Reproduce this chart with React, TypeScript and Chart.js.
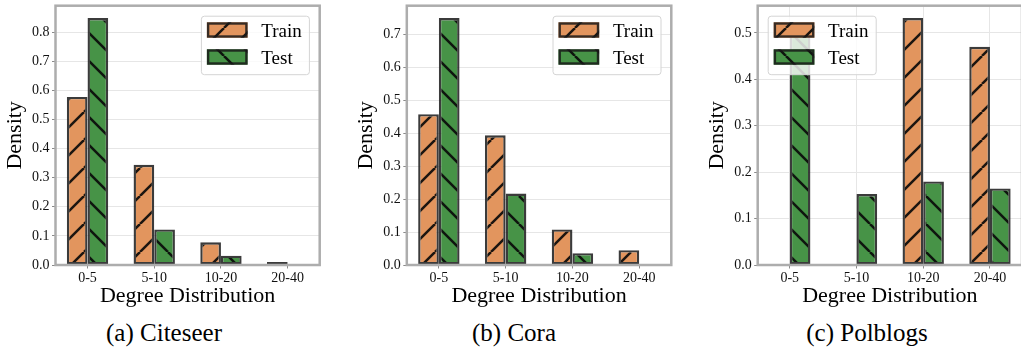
import React, { useEffect, useRef } from 'react';
import { Chart, registerables } from 'chart.js';

Chart.register(...registerables);

// ---------------- data ----------------
const categories = ['0-5', '5-10', '10-20', '20-40'];

const citeseerTrain = [0.577, 0.344, 0.078, 0.01];
const citeseerTest = [0.848, 0.122, 0.032, 0.003];

const coraTrain = [0.458, 0.394, 0.108, 0.045];
const coraTest = [0.75, 0.217, 0.036, 0.003];

const polblogsTrain = [0.0, 0.0, 0.532, 0.47];
const polblogsTest = [0.5, 0.153, 0.18, 0.165];

const citeseerTicks = [0, 0.1, 0.2, 0.3, 0.4, 0.5, 0.6, 0.7, 0.8];
const coraTicks = [0, 0.1, 0.2, 0.3, 0.4, 0.5, 0.6, 0.7];
const polblogsTicks = [0, 0.1, 0.2, 0.3, 0.4, 0.5];

const yMaxes = [0.8904, 0.7875, 0.5586];
const xRange = [-0.48, 3.48];

const seriesLabels = ['Train', 'Test'];
const captions = ['(a) Citeseer', '(b) Cora', '(c) Polblogs'];

// ---------------- styles ----------------
const SERIF = "'Liberation Serif', 'DejaVu Serif', serif";
const ORANGE = '#e2955e';
const GREEN = '#479347';
const EDGE = 'rgba(25,25,25,0.85)';
const GRID = '#e6e6e6';
const SPINE = '#adadad';
const CANVAS_H = 312;
const PLOT_TOP = 5.7;
const PLOT_BOTTOM = 265;

function makePattern(color: string, dir: number): CanvasPattern | string {
  const T = 28;
  const c = document.createElement('canvas');
  c.width = T;
  c.height = T;
  const g = c.getContext('2d');
  if (!g) return color;
  g.fillStyle = color;
  g.fillRect(0, 0, T, T);
  g.strokeStyle = 'rgba(10,10,10,0.92)';
  g.lineWidth = 2.5;
  for (const k of [-T, 0, T]) {
    g.beginPath();
    if (dir === 1) {
      g.moveTo(k, T);
      g.lineTo(k + T, 0);
    } else {
      g.moveTo(k, 0);
      g.lineTo(k + T, T);
    }
    g.stroke();
  }
  return g.createPattern(c, 'repeat') || color;
}

const framePlugin = {
  id: 'frameAndLegend',
  afterDatasetsDraw(chart: any) {
    const { ctx, chartArea } = chart;
    ctx.save();
    ctx.strokeStyle = SPINE;
    ctx.lineWidth = 2.5;
    ctx.strokeRect(chartArea.left, chartArea.top, chartArea.right - chartArea.left, chartArea.bottom - chartArea.top);
    ctx.restore();
  },
  afterDraw(chart: any, _args: any, opts: any) {
    const { ctx, chartArea } = chart;
    const W = 108;
    const H = 58.5;
    const x0 = opts.side === 'right' ? chartArea.right - 10.8 - W : chartArea.left + 10;
    const y0 = chartArea.top + 10;
    ctx.save();
    ctx.beginPath();
    (ctx as any).roundRect(x0 + 0.5, y0 + 0.5, W, H, 3);
    ctx.fillStyle = 'rgba(255,255,255,0.8)';
    ctx.fill();
    ctx.strokeStyle = '#d4d4d4';
    ctx.lineWidth = 1;
    ctx.stroke();
    chart.data.datasets.forEach((ds: any, i: number) => {
      const py = y0 + 6.6 + i * 27;
      const px = x0 + 6;
      ctx.fillStyle = ds.backgroundColor;
      ctx.fillRect(px, py, 40.7, 15.4);
      ctx.strokeStyle = ds.borderColor;
      ctx.lineWidth = 2.4;
      ctx.strokeRect(px + 1.2, py + 1.2, 40.7 - 2.4, 15.4 - 2.4);
      ctx.fillStyle = '#000';
      ctx.font = `19px ${SERIF}`;
      ctx.textAlign = 'left';
      ctx.textBaseline = 'alphabetic';
      ctx.fillText(ds.label, x0 + 60.4, py + 14.4);
    });
    ctx.restore();
  },
};

type PanelProps = {
  chartLeft: number;
  chartRight: number;
  train: number[];
  test: number[];
  yTicks: number[];
  yMax: number;
  legendSide: 'left' | 'right';
  xGrid: boolean;
};

function Panel({ chartLeft, chartRight, train, test, yTicks, yMax, legendSide, xGrid }: PanelProps) {
  const ref = useRef<HTMLCanvasElement | null>(null);
  const canvasLeft = Math.floor(chartLeft - 55);
  const yW = chartLeft - canvasLeft;
  const canvasW = Math.ceil(chartRight) + 10 - canvasLeft;
  const padRight = canvasW - (chartRight - canvasLeft);

  useEffect(() => {
    if (!ref.current) return;
    const trainPat = makePattern(ORANGE, 1);
    const testPat = makePattern(GREEN, -1);
    const tickFont = { family: SERIF, size: 14 };
    const titleFont = { family: SERIF, size: 22 };
    const chart = new Chart(ref.current, {
      type: 'bar',
      data: {
        datasets: [
          {
            label: seriesLabels[0],
            data: train.map((v, i) => ({ x: i, y: v })),
            backgroundColor: trainPat as any,
            borderColor: EDGE,
            borderWidth: 2.4,
            borderSkipped: false,
            categoryPercentage: 0.62,
            barPercentage: 1.0,
          },
          {
            label: seriesLabels[1],
            data: test.map((v, i) => ({ x: i, y: v })),
            backgroundColor: testPat as any,
            borderColor: EDGE,
            borderWidth: 2.4,
            borderSkipped: false,
            categoryPercentage: 0.62,
            barPercentage: 1.0,
          },
        ],
      },
      options: {
        animation: false,
        responsive: false,
        maintainAspectRatio: false,
        layout: { padding: { top: PLOT_TOP, left: 0, right: padRight, bottom: 0 } },
        plugins: {
          legend: { display: false },
          tooltip: { enabled: false },
          frameAndLegend: { side: legendSide },
        } as any,
        scales: {
          x: {
            type: 'linear',
            min: xRange[0],
            max: xRange[1],
            offset: false,
            afterBuildTicks: (s: any) => {
              s.ticks = categories.map((_, i) => ({ value: i }));
            },
            ticks: {
              callback: (v: any) => categories[Math.round(Number(v))] ?? '',
              font: tickFont,
              color: '#111',
              padding: 1.5,
              maxRotation: 0,
              autoSkip: false,
            },
            grid: {
              display: true,
              drawOnChartArea: xGrid,
              color: GRID,
              lineWidth: 1,
              tickLength: 3.5,
              tickColor: '#8a8a8a',
              tickWidth: 1,
              offset: false,
            },
            border: { display: false },
            title: {
              display: true,
              text: 'Degree Distribution',
              font: titleFont,
              color: '#000',
              padding: { top: 0, bottom: 2.8 },
            },
            afterFit: (s: any) => {
              s.height = CANVAS_H - PLOT_BOTTOM;
              s.paddingLeft = 0;
              s.paddingRight = 0;
            },
          },
          y: {
            type: 'linear',
            min: 0,
            max: yMax,
            afterBuildTicks: (s: any) => {
              s.ticks = yTicks.map((v) => ({ value: v }));
            },
            ticks: {
              callback: (v: any) => Number(v).toFixed(1),
              font: tickFont,
              color: '#111',
              padding: 2.5,
            },
            grid: {
              color: GRID,
              lineWidth: 1,
              tickLength: 3.5,
              tickColor: '#8a8a8a',
              tickWidth: 1,
            },
            border: { display: false },
            title: {
              display: true,
              text: 'Density',
              font: titleFont,
              color: '#000',
              padding: { top: 2.2, bottom: 0 },
            },
            afterFit: (s: any) => {
              s.width = yW;
              s.paddingTop = 0;
              s.paddingBottom = 0;
            },
          },
        } as any,
      },
      plugins: [framePlugin as any],
    });
    return () => chart.destroy();
  }, []);

  return (
    <canvas
      ref={ref}
      width={canvasW}
      height={CANVAS_H}
      style={{ position: 'absolute', left: canvasLeft, top: 0, width: canvasW, height: CANVAS_H }}
    />
  );
}

const captionCenters = [164, 514, 867];

export default function App() {
  return (
    <div
      style={{
        position: 'absolute',
        left: 0,
        top: 0,
        width: 1021,
        height: 347,
        overflow: 'hidden',
        background: '#fff',
      }}
    >
      <Panel chartLeft={55.5} chartRight={319.7} train={citeseerTrain} test={citeseerTest} yTicks={citeseerTicks} yMax={yMaxes[0]} legendSide="right" xGrid={false} />
      <Panel chartLeft={406.8} chartRight={671.3} train={coraTrain} test={coraTest} yTicks={coraTicks} yMax={yMaxes[1]} legendSide="right" xGrid={false} />
      <Panel chartLeft={757.7} chartRight={1022} train={polblogsTrain} test={polblogsTest} yTicks={polblogsTicks} yMax={yMaxes[2]} legendSide="left" xGrid={true} />
      {captions.map((c, i) => (
        <div
          key={c}
          style={{
            position: 'absolute',
            left: captionCenters[i] - 100,
            width: 200,
            top: 320,
            textAlign: 'center',
            fontFamily: SERIF,
            fontSize: 25,
            lineHeight: '25px',
            color: '#000',
            whiteSpace: 'nowrap',
          }}
        >
          {c}
        </div>
      ))}
    </div>
  );
}
